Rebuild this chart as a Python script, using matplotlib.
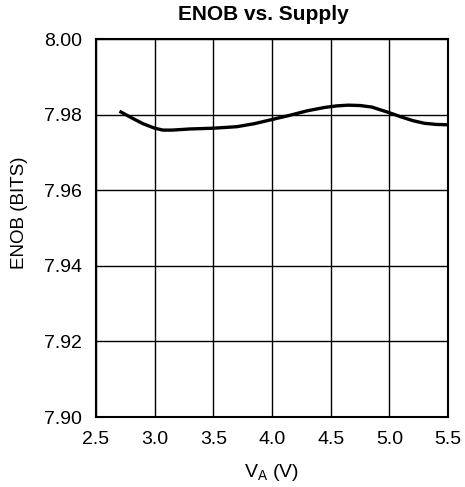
import matplotlib.pyplot as plt

plt.rcParams['font.family'] = ['Liberation Sans', 'DejaVu Sans']

# Datos
va = [2.70, 2.80, 2.90, 3.00, 3.07, 3.15, 3.30, 3.50, 3.70, 3.85, 4.00,
      4.15, 4.30, 4.45, 4.55, 4.65, 4.75, 4.85, 5.00, 5.10, 5.20, 5.30, 5.40, 5.50]
enob = [7.9809, 7.9792, 7.9776, 7.9764, 7.9759, 7.9759, 7.9762, 7.9764, 7.9768, 7.9776, 7.9787,
        7.9798, 7.9810, 7.9819, 7.9823, 7.9825, 7.9824, 7.9820, 7.9805, 7.9794, 7.9784, 7.9777, 7.9774, 7.9773]

x_ticks = [2.5, 3.0, 3.5, 4.0, 4.5, 5.0, 5.5]
y_ticks = [7.90, 7.92, 7.94, 7.96, 7.98, 8.00]

W, H = 465, 487
fig = plt.figure(figsize=(W / 100, H / 100), dpi=100)
# ejes en pixeles: x 96..448, y 39..417
ax = fig.add_axes([96 / W, 1 - 417 / H, 352 / W, 378 / H])

ax.plot(va, enob, color='black', linewidth=2.4, solid_capstyle='butt', zorder=3)

ax.set_xlim(2.5, 5.5)
ax.set_ylim(7.90, 8.00)
ax.set_xticks(x_ticks)
ax.set_xticklabels([f'{v:.1f}' for v in x_ticks])
ax.set_yticks(y_ticks)
ax.set_yticklabels([f'{v:.2f}' for v in y_ticks])
ax.tick_params(length=0, labelsize=14, pad=10)
ax.grid(True, color='black', linewidth=1.0)
for s in ax.spines.values():
    s.set_linewidth(1.5)

fig.text(263.5 / W, 1 - 20 / H, 'ENOB vs. Supply', fontsize=15, fontweight='bold',
         ha='center', va='baseline')
fig.text(271.5 / W, 1 - 477 / H, 'V$_\\mathregular{A}$ (V)', fontsize=14,
         ha='center', va='baseline')
fig.text(20 / W, 1 - 213 / H, 'ENOB (BITS)', fontsize=13.5, rotation=90,
         ha='center', va='center')

fig.savefig('out.png', dpi=100)
